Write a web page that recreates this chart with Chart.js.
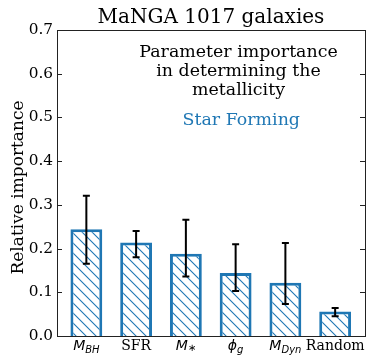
<!DOCTYPE html>
<html><head><meta charset="utf-8">
<script src="https://cdn.jsdelivr.net/npm/chart.js@4"></script>
<style>html,body{margin:0;padding:0;background:#fff}#c{display:block}</style>
</head><body>
<div style="width:374px;height:364px"><canvas id="c" width="374" height="364"></canvas></div>
<script>
const categories = ['M_BH', 'SFR', 'M_*', 'phi_g', 'M_Dyn', 'Random'];
const labelMain = ['M', 'SFR', 'M', 'ϕ', 'M', 'Random'];
const labelSub  = ['BH', '', '∗', 'g', 'Dyn', ''];
const labelItalic = [true, false, true, true, true, false];
const importance = [0.244, 0.214, 0.188, 0.144, 0.122, 0.056];
const errLow  = [0.165, 0.180, 0.136, 0.103, 0.073, 0.045];
const errHigh = [0.321, 0.240, 0.266, 0.210, 0.213, 0.064];
const yTicks = [0.0, 0.1, 0.2, 0.3, 0.4, 0.5, 0.6, 0.7];

const BLUE = '#1f77b4';
const SERIF = '"DejaVu Serif", serif';
const SANS = '"DejaVu Sans", sans-serif';

function hatch() {
  const p = document.createElement('canvas');
  p.width = 10; p.height = 10;
  const g = p.getContext('2d');
  g.fillStyle = '#fff'; g.fillRect(0,0,10,10);
  g.strokeStyle = BLUE; g.lineWidth = 1.1;
  g.beginPath();
  g.moveTo(-2,-2); g.lineTo(12,12);
  g.moveTo(-2,8); g.lineTo(2,12);
  g.moveTo(8,-2); g.lineTo(12,2);
  g.stroke();
  return g.createPattern(p, 'repeat');
}

const overlay = {
  id: 'overlay',
  afterDatasetsDraw(chart) {
    const ctx = chart.ctx, x = chart.scales.x, y = chart.scales.y, a = chart.chartArea;
    ctx.save();
    // error bars
    ctx.strokeStyle = '#000'; ctx.lineWidth = 2;
    importance.forEach((v, i) => {
      const px = x.getPixelForValue(i);
      const t = y.getPixelForValue(errHigh[i]), b = y.getPixelForValue(errLow[i]);
      ctx.beginPath();
      ctx.moveTo(px, t); ctx.lineTo(px, b);
      ctx.moveTo(px - 3.5, t); ctx.lineTo(px + 3.5, t);
      ctx.moveTo(px - 3.5, b); ctx.lineTo(px + 3.5, b);
      ctx.stroke();
    });
    // frame
    ctx.strokeStyle = '#222'; ctx.lineWidth = 1;
    ctx.strokeRect(Math.round(a.left) + 0.5, Math.round(a.top) + 0.5, Math.round(a.right - a.left), Math.round(a.bottom - a.top));
    // inward ticks left & right
    ctx.beginPath();
    yTicks.forEach(t => {
      const py = Math.round(y.getPixelForValue(t)) + 0.5;
      ctx.moveTo(a.left, py); ctx.lineTo(a.left + 5, py);
      ctx.moveTo(a.right, py); ctx.lineTo(a.right - 5, py);
    });
    ctx.stroke();
    // x labels
    ctx.fillStyle = '#000'; ctx.textBaseline = 'alphabetic';
    const base = a.bottom + 13.5;
    categories.forEach((c, i) => {
      const px = x.getPixelForValue(i);
      const mainFont = labelItalic[i] ? 'italic 14px ' + SANS : '14px ' + SERIF;
      const subFont = (labelSub[i] === '∗' ? '' : 'italic ') + '10px ' + SANS;
      ctx.font = mainFont; const w1 = ctx.measureText(labelMain[i]).width;
      ctx.font = subFont; const w2 = labelSub[i] ? ctx.measureText(labelSub[i]).width : 0;
      const start = px - (w1 + w2) / 2;
      ctx.textAlign = 'left';
      ctx.font = mainFont; ctx.fillText(labelMain[i], start, base);
      if (labelSub[i]) { ctx.font = subFont; ctx.fillText(labelSub[i], start + w1, labelSub[i] === '∗' ? base + 1.5 : base + 3.5); }
    });
    // title
    ctx.textAlign = 'center';
    ctx.font = '20px ' + SERIF;
    ctx.fillText('MaNGA 1017 galaxies', (a.left + a.right) / 2, 23);
    // annotation
    ctx.font = '17.4px ' + SERIF;
    ctx.fillText('Parameter importance', 238.5, 56.5);
    ctx.fillText('in determining the', 238.5, 76);
    ctx.fillText('metallicity', 238.5, 95);
    ctx.fillStyle = BLUE;
    ctx.fillText('Star Forming', 241.3, 125);
    // y label
    ctx.fillStyle = '#000';
    ctx.translate(22.5, 187.5);
    ctx.rotate(-Math.PI / 2);
    ctx.font = '17px ' + SERIF;
    ctx.fillText('Relative importance', 0, 0);
    ctx.restore();
  }
};

new Chart(document.getElementById('c'), {
  type: 'bar',
  data: {
    datasets: [{
      data: importance.map((v, i) => ({ x: i, y: v })),
      backgroundColor: hatch(),
      borderColor: BLUE,
      borderWidth: 3,
      barPercentage: 0.64,
      categoryPercentage: 1
    }]
  },
  options: {
    responsive: false,
    animation: false,
    layout: { padding: { top: 30, right: 9, bottom: 28, left: 0 } },
    plugins: { legend: { display: false }, tooltip: { enabled: false }, title: { display: false } },
    scales: {
      x: {
        type: 'linear', min: -0.59, max: 5.6, offset: false,
        afterFit(s) { s.height = 0; },
        grid: { display: false, drawTicks: false, tickLength: 0 }, border: { display: false },
        ticks: { display: false }
      },
      y: {
        min: 0, max: 0.7,
        afterFit(s) { s.width = 57; },
        afterBuildTicks(s) { s.ticks = yTicks.map(v => ({ value: v })); },
        grid: { display: false, drawTicks: false, tickLength: 0 }, border: { display: false },
        ticks: { padding: 4, color: '#000', font: { family: SERIF, size: 15.3 }, callback: v => v.toFixed(1) }
      }
    }
  },
  plugins: [overlay]
});
</script>
</body></html>
